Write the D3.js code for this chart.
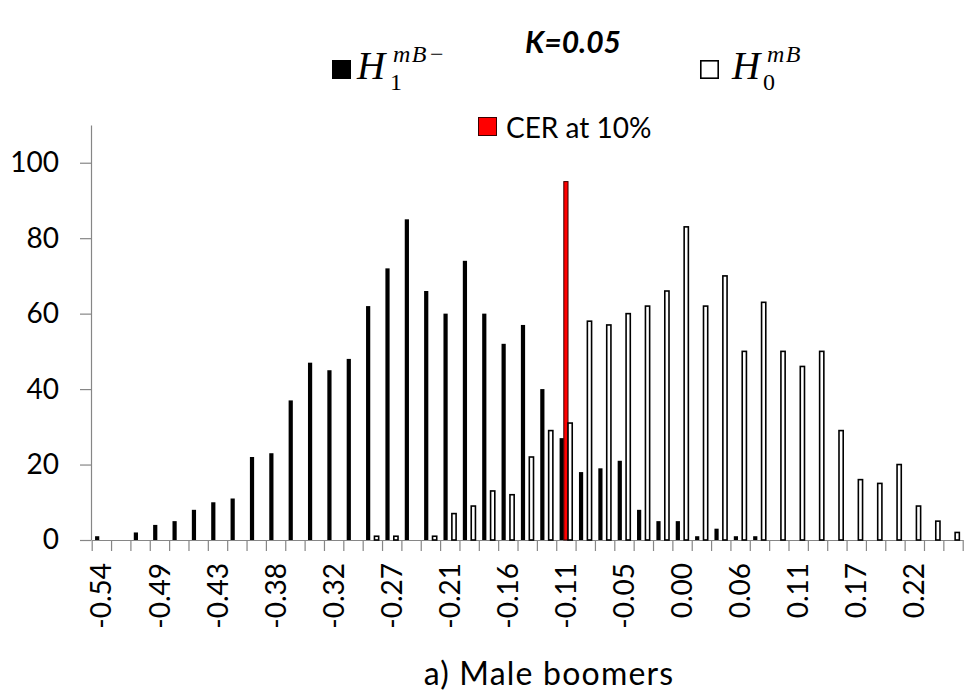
<!DOCTYPE html>
<html>
<head>
<meta charset="utf-8">
<script src="https://cdn.jsdelivr.net/npm/d3@7"></script>
<style>
  body { margin: 0; background: #fff; }
  svg text { font-family: Lato, "Noto Sans", sans-serif; fill: #000; }
  .axis path, .axis line { stroke: #868686; stroke-width: 1.2; }
  .math { font-family: "Liberation Serif", "DejaVu Serif", serif; }
</style>
</head>
<body>
<svg id="chart"></svg>
<script>
// counts per bin (45 bins, left to right)
const h1Counts = [1, 0, 2, 4, 5, 8, 10, 11, 22, 23, 37, 47, 45, 48, 62,
                  72, 85, 66, 60, 74, 60, 52, 57, 40, 27, 18, 19, 21, 8, 5,
                  5, 1, 3, 1, 1, 0, 0, 0, 0, 0, 0, 0, 0, 0, 0];
const h0Counts = [0, 0, 0, 0, 0, 0, 0, 0, 0, 0, 0, 0, 0, 0, 1,
                  1, 0, 1, 7, 9, 13, 12, 22, 29, 31, 58, 57, 60, 62, 66,
                  83, 62, 70, 50, 63, 50, 46, 50, 29, 16, 15, 20, 9, 5, 2];
// critical value bar
const cerBin = 24;
const cerValue = 95;

// every third bin gets a label
const tickLabels = ['-0.54', '-0.49', '-0.43', '-0.38', '-0.32', '-0.27', '-0.21', '-0.16',
                    '-0.11', '-0.05', '0.00', '0.06', '0.11', '0.17', '0.22'];
const labelStep = 3;
const yTicks = [0, 20, 40, 60, 80, 100];
const yMax = 110;

const W = 980, H = 700;
const plot = {left: 91.7, right: 962.7, top: 125, bottom: 540};

const svg = d3.select('#chart')
    .attr('width', W)
    .attr('height', H);

const bins = d3.range(h1Counts.length);
const rows = bins.map(i => ({
  i: i,
  h1: h1Counts[i],
  cer: i === cerBin ? cerValue : 0,
  h0: h0Counts[i]
}));

// scales
const x = d3.scaleBand()
    .domain(bins)
    .range([plot.left, plot.right]);

const xSub = d3.scaleBand()
    .domain(['h1', 'cer', 'h0'])
    .range([0, x.bandwidth()])
    .paddingOuter(0.8);

const xEdge = d3.scaleLinear()
    .domain([0, bins.length])
    .range([plot.left, plot.right]);

const y = d3.scaleLinear()
    .domain([0, yMax])
    .range([plot.bottom, plot.top]);

// y axis
svg.append('g')
    .attr('class', 'axis y-axis')
    .attr('transform', `translate(${plot.left - 0.7},0)`)
    .call(d3.axisLeft(y).tickValues(yTicks).tickSize(11).tickSizeOuter(0).tickPadding(21))
    .call(g => g.selectAll('text').style('font-size', '28px'));

// x axis tick marks at bin edges
svg.append('g')
    .attr('class', 'axis x-axis')
    .attr('transform', `translate(0,${plot.bottom})`)
    .call(d3.axisBottom(xEdge).tickValues(d3.range(bins.length + 1)).tickSize(11).tickSizeOuter(0).tickFormat(''));

// x labels, rotated
svg.append('g')
    .attr('class', 'x-labels')
    .attr('transform', `translate(0,${plot.bottom})`)
    .call(d3.axisBottom(x)
        .tickValues(bins.filter(i => i % labelStep === 0 && i / labelStep < tickLabels.length))
        .tickFormat(i => tickLabels[i / labelStep])
        .tickSize(0))
    .call(g => g.select('.domain').remove())
    .call(g => g.selectAll('text')
        .style('font-size', '28px')
        .attr('transform', 'rotate(-90)')
        .attr('x', -23)
        .attr('y', 0)
        .attr('dy', '0.36em')
        .style('text-anchor', 'end'));

// bars
const bar = svg.append('g').attr('class', 'bars');

bar.selectAll('.h1')
    .data(rows.filter(d => d.h1 > 0))
    .join('rect')
    .attr('class', 'h1')
    .attr('x', d => x(d.i) + xSub('h1'))
    .attr('width', xSub.bandwidth())
    .attr('y', d => y(d.h1))
    .attr('height', d => y(0) - y(d.h1))
    .attr('fill', '#000');

bar.selectAll('.cer')
    .data(rows.filter(d => d.cer > 0))
    .join('rect')
    .attr('class', 'cer')
    .attr('x', d => x(d.i) + xSub('cer'))
    .attr('width', xSub.bandwidth())
    .attr('y', d => y(d.cer))
    .attr('height', d => y(0) - y(d.cer))
    .attr('fill', '#ff0000')
    .attr('stroke', '#3a0000')
    .attr('stroke-width', 1);

bar.selectAll('.h0')
    .data(rows.filter(d => d.h0 > 0))
    .join('rect')
    .attr('class', 'h0')
    .attr('x', d => x(d.i) + xSub('h0'))
    .attr('width', xSub.bandwidth())
    .attr('y', d => y(d.h0))
    .attr('height', d => y(0) - y(d.h0))
    .attr('fill', '#fff')
    .attr('stroke', '#000')
    .attr('stroke-width', 1.6);

// title and legend
svg.append('text')
    .attr('x', 573)
    .attr('y', 53)
    .attr('text-anchor', 'middle')
    .style('font-size', '30px')
    .style('font-style', 'italic')
    .style('font-weight', 'bold')
    .text('K=0.05');

svg.append('rect')
    .attr('x', 332).attr('y', 60).attr('width', 19).attr('height', 19)
    .attr('fill', '#000');
svg.append('text').attr('class', 'math')
    .attr('x', 357).attr('y', 79)
    .style('font-size', '39px').style('font-style', 'italic')
    .text('H');
svg.append('text').attr('class', 'math')
    .attr('x', 393).attr('y', 62)
    .style('font-size', '24px')
    .style('letter-spacing', '1.5px')
    .call(t => {
      t.append('tspan').style('font-style', 'italic').text('mB');
      t.append('tspan').attr('dx', 2).text('\u2212');
    });
svg.append('text').attr('class', 'math')
    .attr('x', 390).attr('y', 90)
    .style('font-size', '24px')
    .text('1');

svg.append('rect')
    .attr('x', 700.8).attr('y', 60.8).attr('width', 17.4).attr('height', 17.4)
    .attr('fill', '#fff').attr('stroke', '#000').attr('stroke-width', 1.6);
svg.append('text').attr('class', 'math')
    .attr('x', 732).attr('y', 79)
    .style('font-size', '39px').style('font-style', 'italic')
    .text('H');
svg.append('text').attr('class', 'math')
    .attr('x', 767).attr('y', 62)
    .style('font-size', '24px').style('font-style', 'italic')
    .style('letter-spacing', '1.5px')
    .text('mB');
svg.append('text').attr('class', 'math')
    .attr('x', 763).attr('y', 90)
    .style('font-size', '24px')
    .text('0');

svg.append('rect')
    .attr('x', 478.5).attr('y', 117.5).attr('width', 18).attr('height', 18)
    .attr('fill', '#ff0000').attr('stroke', '#3a0000').attr('stroke-width', 1);
svg.append('text')
    .attr('x', 506).attr('y', 138)
    .style('font-size', '28px')
    .text('CER at 10%');

// axis caption
svg.append('text')
    .attr('x', 549)
    .attr('y', 685)
    .attr('text-anchor', 'middle')
    .style('font-size', '32px')
    .style('letter-spacing', '1.2px')
    .text('a) Male boomers');
</script>
</body>
</html>
